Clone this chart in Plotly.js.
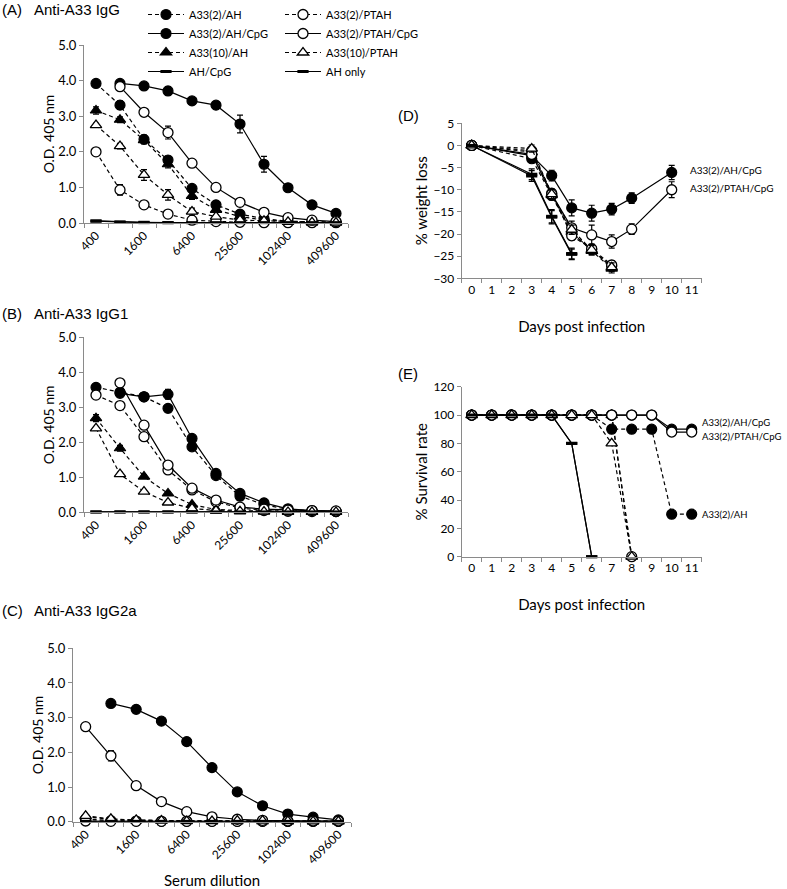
<!DOCTYPE html>
<html><head><meta charset="utf-8">
<script src="https://cdn.plot.ly/plotly-3.0.1.min.js"></script>
<style>html,body{margin:0;padding:0;background:#fff}</style>
</head><body><div id="chart" style="width:787px;height:889px"></div>
<script>
// ---------- DATA ----------
const dilutions = ["400","800","1600","3200","6400","12800","25600","51200","102400","204800","409600"];
const dilutionTickText = ["400","","1600","","6400","","25600","","102400","","409600"];
const seriesNames = ["A33(2)/AH","A33(2)/AH/CpG","A33(10)/AH","AH/CpG","A33(2)/PTAH","A33(2)/PTAH/CpG","A33(10)/PTAH","AH only"];

// (A) Anti-A33 IgG
const igg_AH       = [3.92, 3.31, 2.35, 1.77, 0.97, 0.51, 0.25, 0.12, 0.05, 0.03, 0.02];
const igg_AH_err   = [0.05, 0.12, 0.12, 0.10, 0.08, 0.04, 0.03, 0.02, 0, 0, 0];
const igg_AHCpG    = [null, 3.92, 3.85, 3.71, 3.43, 3.31, 2.78, 1.65, 0.99, 0.51, 0.27];
const igg_AHCpG_err= [0, 0.05, 0.05, 0.12, 0.06, 0.10, 0.25, 0.22, 0.06, 0.04, 0.03];
const igg_10AH     = [3.16, 2.90, 2.33, 1.65, 0.76, 0.37, 0.18, 0.08, 0.04, 0.02, 0.02];
const igg_10AH_err = [0.10, 0.08, 0.10, 0.10, 0.10, 0.05, 0.03, 0.02, 0, 0, 0];
const igg_mockCpG  = [0.06, 0.03, 0.02, 0.01, 0.01, 0.01, 0.01, 0.01, 0.01, 0.01, 0.01];
const igg_PTAH     = [2.00, 0.93, 0.51, 0.25, 0.08, 0.04, 0.02, 0.01, 0.01, 0.01, 0.01];
const igg_PTAH_err = [0.05, 0.15, 0.05, 0.05, 0.03, 0.02, 0, 0, 0, 0, 0];
const igg_PTAHCpG  = [null, 3.83, 3.11, 2.54, 1.68, 1.00, 0.58, 0.30, 0.15, 0.08, 0.04];
const igg_PTAHCpG_err = [0, 0.05, 0.05, 0.18, 0.05, 0.05, 0.05, 0.03, 0.02, 0.01, 0.01];
const igg_10PTAH   = [2.75, 2.16, 1.35, 0.79, 0.32, 0.18, 0.08, 0.06, 0.03, 0.02, 0.01];
const igg_10PTAH_err = [0.05, 0.08, 0.15, 0.15, 0.10, 0.05, 0.03, 0.02, 0, 0, 0];
const igg_mock     = [0.05, 0.02, 0.01, 0.01, 0.01, 0.01, 0.01, 0.01, 0.01, 0.01, 0.01];

// (B) Anti-A33 IgG1
const igg1_AH       = [3.57, 3.43, 3.30, 2.97, 1.87, 1.05, 0.46, 0.22, 0.08, 0.04, 0.02];
const igg1_AH_err   = [0.05, 0.05, 0.05, 0.06, 0.06, 0.05, 0.04, 0.02, 0, 0, 0];
const igg1_AHCpG    = [null, 3.40, 3.30, 3.37, 2.11, 1.11, 0.54, 0.27, 0.10, 0.05, 0.03];
const igg1_AHCpG_err= [0, 0.05, 0.05, 0.14, 0.06, 0.05, 0.04, 0.03, 0.02, 0.01, 0.01];
const igg1_10AH     = [2.69, 1.83, 1.02, 0.54, 0.22, 0.08, 0.05, 0.03, 0.02, 0.01, 0.01];
const igg1_10AH_err = [0.10, 0.08, 0.05, 0.05, 0.03, 0.02, 0, 0, 0, 0, 0];
const igg1_mockCpG  = [0.01, 0.01, 0.01, 0.01, 0.01, 0.01, 0.01, 0.01, 0.01, 0.01, 0.01];
const igg1_PTAH     = [3.35, 3.05, 2.16, 1.21, 0.64, 0.30, 0.12, 0.05, 0.03, 0.02, 0.02];
const igg1_PTAH_err = [0.05, 0.05, 0.05, 0.05, 0.04, 0.03, 0.02, 0, 0, 0, 0];
const igg1_PTAHCpG  = [null, 3.70, 2.49, 1.35, 0.69, 0.35, 0.15, 0.09, 0.06, 0.05, 0.04];
const igg1_PTAHCpG_err = [0, 0.05, 0.05, 0.05, 0.04, 0.03, 0.02, 0.02, 0.01, 0.01, 0.01];
const igg1_10PTAH   = [2.40, 1.09, 0.59, 0.28, 0.11, 0.05, 0.03, 0.02, 0.01, 0.01, 0.01];
const igg1_10PTAH_err = [0.05, 0.05, 0.04, 0.03, 0.02, 0, 0, 0, 0, 0, 0];
const igg1_mock     = [0.01, 0.01, 0.01, 0.01, 0.01, 0.01, 0.01, 0.01, 0.01, 0.01, 0.01];

// (C) Anti-A33 IgG2a
const igg2a_AH       = [0.08, 0.03, 0.02, 0.01, 0.01, 0.01, 0.01, 0.01, 0.01, 0.01, 0.01];
const igg2a_AHCpG    = [null, 3.41, 3.24, 2.90, 2.31, 1.56, 0.86, 0.46, 0.22, 0.13, 0.05];
const igg2a_AHCpG_err= [0, 0.04, 0.08, 0.06, 0.05, 0.04, 0.03, 0.03, 0.02, 0.01, 0.01];
const igg2a_10AH     = [0.15, 0.06, 0.04, 0.03, 0.02, 0.01, 0.01, 0.01, 0.01, 0.01, 0.01];
const igg2a_mockCpG  = [0.01, 0.01, 0.01, 0.01, 0.01, 0.01, 0.01, 0.01, 0.01, 0.01, 0.01];
const igg2a_PTAH     = [0.02, 0.01, 0.01, 0.01, 0.01, 0.01, 0.01, 0.01, 0.01, 0.01, 0.01];
const igg2a_PTAHCpG  = [2.74, 1.90, 1.04, 0.58, 0.29, 0.14, 0.07, 0.04, 0.02, 0.02, 0.02];
const igg2a_PTAHCpG_err = [0.10, 0.15, 0.04, 0.03, 0.02, 0.02, 0.01, 0.01, 0.01, 0.01, 0.01];
const igg2a_10PTAH   = [0.17, 0.08, 0.05, 0.03, 0.02, 0.02, 0.03, 0.03, 0.02, 0.01, 0.01];
const igg2a_mock     = [0.01, 0.01, 0.01, 0.01, 0.01, 0.01, 0.01, 0.01, 0.01, 0.01, 0.01];

// (D) % weight loss
const daysD = [0, 3, 4, 5, 6, 7, 8, 10];
const wl_AH        = [0, -3.0, -11.3, -19.8, -23.5, -27.3, null, null];
const wl_AH_err    = [0.2, 0.8, 1.0, 1.0, 1.0, 1.0, 0, 0];
const wl_AHCpG     = [0, -2.3, -6.8, -14.1, -15.3, -14.4, -11.9, -6.1];
const wl_AHCpG_err = [0.3, 0.8, 1.2, 1.8, 1.8, 1.3, 1.2, 1.6];
const wl_10AH      = [0, -1.5, -11.2, -19.5, -23.8, -27.8, null, null];
const wl_10AH_err  = [0.2, 0.8, 1.0, 1.0, 1.0, 1.0, 0, 0];
const wl_mockCpG   = [0, -6.9, -16.2, -24.6, null, null, null, null];
const wl_mockCpG_err = [0.2, 1.2, 1.5, 1.2, 0, 0, 0, 0];
const wl_PTAH      = [0, -1.2, -10.8, -20.4, -23.3, -27.0, null, null];
const wl_PTAH_err  = [0.2, 0.8, 1.0, 1.0, 1.0, 1.0, 0, 0];
const wl_PTAHCpG   = [0, -2.0, -11.0, -18.6, -20.2, -21.7, -18.9, -10.0];
const wl_PTAHCpG_err = [0.3, 0.8, 1.0, 1.5, 2.2, 1.5, 1.2, 1.8];
const wl_10PTAH    = [0, -0.7, -11.0, -19.0, -23.6, -27.5, null, null];
const wl_10PTAH_err= [0.2, 0.8, 1.0, 1.0, 1.0, 1.0, 0, 0];
const wl_mock      = [0, -6.5, -16.0, -24.4, null, null, null, null];
const wl_mock_err  = [0.2, 1.2, 1.5, 1.2, 0, 0, 0, 0];

// (E) % survival
const daysE = [0, 1, 2, 3, 4, 5, 6, 7, 8, 9, 10, 11];
const sv_AH       = [100, 100, 100, 100, 100, 100, 100, 90, 90, 90, 30, 30];
const sv_AHCpG    = [100, 100, 100, 100, 100, 100, 100, 100, 100, 100, 90, 90];
const sv_10AH     = [100, 100, 100, 100, 100, 100, 100, 100, 0, null, null, null];
const sv_mockCpG  = [100, 100, 100, 100, 100, 80, 0, null, null, null, null, null];
const sv_PTAH     = [100, 100, 100, 100, 100, 100, 100, 100, 0, null, null, null];
const sv_PTAHCpG  = [100, 100, 100, 100, 100, 100, 100, 100, 100, 100, 88, 88];
const sv_10PTAH   = [100, 100, 100, 100, 100, 100, 100, 80, 0, null, null, null];
const sv_mock     = [100, 100, 100, 100, 100, 80, 0, null, null, null, null, null];

// ---------- STYLE ----------
const W = 787, H = 889;
const FONT = "Lato, 'Open Sans', sans-serif";
const AX = '#8a8a8a';
const TXT = '#000000';
const DASH = '4px,3px';
const styles = {
  "A33(2)/AH":       {symbol:'circle', fill:'black', dash:DASH, size:10, mlw:1.2, legend:'legend'},
  "A33(2)/AH/CpG":   {symbol:'circle', fill:'black', dash:'solid', size:10, mlw:1.2, legend:'legend'},
  "A33(10)/AH":      {symbol:'triangle-up', fill:'black', dash:DASH, size:10, mlw:1.2, legend:'legend'},
  "AH/CpG":          {symbol:'line-ew', fill:'black', dash:'solid', size:8, mlw:3, legend:'legend'},
  "A33(2)/PTAH":     {symbol:'circle', fill:'white', dash:DASH, size:10, mlw:1.3, legend:'legend2'},
  "A33(2)/PTAH/CpG": {symbol:'circle', fill:'white', dash:'solid', size:10, mlw:1.3, legend:'legend2'},
  "A33(10)/PTAH":    {symbol:'triangle-up', fill:'white', dash:DASH, size:10, mlw:1.3, legend:'legend2'},
  "AH only":         {symbol:'line-ew', fill:'black', dash:'solid', size:8, mlw:3, legend:'legend2'}
};
function mk(name, x, y, err, xa, ya, showlegend) {
  const s = styles[name];
  const t = {type:'scatter', mode:'lines+markers', name:name, x:x, y:y, xaxis:xa, yaxis:ya,
    legend:s.legend, showlegend:showlegend, cliponaxis:false, connectgaps:false, hoverinfo:'skip',
    line:{color:'black', width:1.2, dash:s.dash},
    marker:{symbol:s.symbol, size:s.size, color:s.fill, line:{color:'black', width:s.mlw}}};
  if (err) t.error_y = {type:'data', array:err, visible:true, color:'black', thickness:1.2, width:3};
  return t;
}
const traces = [];
function panel(xs, vals, errs, xa, ya, legendOn) {
  seriesNames.forEach((n, i) => traces.push(mk(n, xs, vals[i], errs[i], xa, ya, legendOn)));
}
panel(dilutions, [igg_AH, igg_AHCpG, igg_10AH, igg_mockCpG, igg_PTAH, igg_PTAHCpG, igg_10PTAH, igg_mock],
  [igg_AH_err, igg_AHCpG_err, igg_10AH_err, null, igg_PTAH_err, igg_PTAHCpG_err, igg_10PTAH_err, null], 'x', 'y', true);
panel(dilutions, [igg1_AH, igg1_AHCpG, igg1_10AH, igg1_mockCpG, igg1_PTAH, igg1_PTAHCpG, igg1_10PTAH, igg1_mock],
  [igg1_AH_err, igg1_AHCpG_err, igg1_10AH_err, null, igg1_PTAH_err, igg1_PTAHCpG_err, igg1_10PTAH_err, null], 'x2', 'y2', false);
panel(dilutions, [igg2a_AH, igg2a_AHCpG, igg2a_10AH, igg2a_mockCpG, igg2a_PTAH, igg2a_PTAHCpG, igg2a_10PTAH, igg2a_mock],
  [null, igg2a_AHCpG_err, null, null, null, igg2a_PTAHCpG_err, null, null], 'x3', 'y3', false);
panel(daysD, [wl_AH, wl_AHCpG, wl_10AH, wl_mockCpG, wl_PTAH, wl_PTAHCpG, wl_10PTAH, wl_mock],
  [wl_AH_err, wl_AHCpG_err, wl_10AH_err, wl_mockCpG_err, wl_PTAH_err, wl_PTAHCpG_err, wl_10PTAH_err, wl_mock_err], 'x4', 'y4', false);
panel(daysE, [sv_AH, sv_AHCpG, sv_10AH, sv_mockCpG, sv_PTAH, sv_PTAHCpG, sv_10PTAH, sv_mock],
  [null, null, null, null, null, null, null, null], 'x5', 'y5', false);

// ---------- LAYOUT ----------
const fx = p => p / W;
const fy = p => 1 - p / H;
function catAxis(x0, x1, anchor, title) {
  const a = {domain:[fx(x0), fx(x1)], anchor:anchor, type:'category', range:[-0.5, 10.5],
    tickmode:'array', tickvals:dilutions, ticktext:dilutionTickText, tickson:'boundaries',
    ticks:'outside', ticklen:4, tickcolor:AX, showline:true, linecolor:AX, linewidth:1,
    tickangle:-45, tickfont:{size:12, family:FONT, color:TXT}, showgrid:false, zeroline:false, fixedrange:true};
  if (title) a.title = {text:title, font:{size:15, family:FONT, color:TXT}, standoff:10};
  return a;
}
function odAxis(y0, y1, anchor) {
  return {domain:[fy(y1), fy(y0)], anchor:anchor, range:[0, 5], tickmode:'linear', tick0:0, dtick:1, tickformat:'.1f',
    ticks:'outside', ticklen:4, tickcolor:AX, showline:true, linecolor:AX, linewidth:1, showgrid:false, zeroline:false,
    tickfont:{size:13, family:FONT, color:TXT},
    title:{text:'O.D. 405 nm', font:{size:14, family:FONT, color:TXT}, standoff:0}, fixedrange:true};
}
function dayAxis(anchor) {
  return {domain:[fx(461.7), fx(701.7)], anchor:anchor, range:[-0.5, 11.5], tickmode:'linear', tick0:0, dtick:1,
    ticks:'', showline:true, linecolor:AX, linewidth:1, showgrid:false, zeroline:false,
    minor:{tick0:-0.5, dtick:1, ticks:'outside', ticklen:4, tickcolor:AX, showgrid:false},
    tickfont:{size:12, family:FONT, color:TXT},
    title:{text:'Days post infection', font:{size:15, family:FONT, color:TXT}, standoff:25}, fixedrange:true};
}
function ann(text, x, y, size, fam, anchor) {
  return {text:text, xref:'paper', yref:'paper', x:fx(x), y:fy(y), xanchor:anchor || 'left', yanchor:'middle',
    showarrow:false, font:{size:size, family:fam || FONT, color:TXT}};
}
const ARIAL = "'Liberation Sans', Arial, sans-serif";
const layout = {
  width:W, height:H, margin:{l:0, r:0, t:0, b:0}, paper_bgcolor:'white', plot_bgcolor:'rgba(0,0,0,0)',
  font:{family:FONT, color:TXT},
  xaxis: catAxis(84, 348, 'y'),
  yaxis: odAxis(45, 223, 'x'),
  xaxis2: catAxis(84, 348, 'y2'),
  yaxis2: odAxis(337.3, 512.3, 'x2'),
  xaxis3: catAxis(73, 351, 'y3', 'Serum dilution'),
  yaxis3: odAxis(648.3, 821.7, 'x3'),
  xaxis4: dayAxis('y4'),
  yaxis4: {domain:[fy(278.3), fy(123.3)], anchor:'x4', range:[-30, 5], tickmode:'linear', tick0:0, dtick:5,
    ticks:'outside', ticklen:4, tickcolor:AX, showline:true, linecolor:AX, showgrid:false, zeroline:false,
    tickfont:{size:12, family:FONT, color:TXT},
    title:{text:'% weight loss', font:{size:15, family:FONT, color:TXT}, standoff:2}, fixedrange:true},
  xaxis5: dayAxis('y5'),
  yaxis5: {domain:[fy(556.7), fy(386.7)], anchor:'x5', range:[0, 120], tickmode:'linear', tick0:0, dtick:20,
    ticks:'outside', ticklen:4, tickcolor:AX, showline:true, linecolor:AX, showgrid:false, zeroline:false,
    tickfont:{size:12, family:FONT, color:TXT},
    title:{text:'% Survival rate', font:{size:15, family:FONT, color:TXT}, standoff:2}, fixedrange:true},
  legend: {x:fx(143), y:1, xanchor:'left', yanchor:'top', font:{size:11, family:FONT, color:TXT},
    bgcolor:'rgba(0,0,0,0)', tracegroupgap:0, itemwidth:36, traceorder:'normal'},
  legend2: {x:fx(280), y:1, xanchor:'left', yanchor:'top', font:{size:11, family:FONT, color:TXT},
    bgcolor:'rgba(0,0,0,0)', tracegroupgap:0, itemwidth:36, traceorder:'normal'},
  annotations: [
    ann('(A)', 0, 9, 15, ARIAL), ann('Anti-A33 IgG', 32, 9, 15, ARIAL),
    ann('(B)', 0, 313, 15, ARIAL), ann('Anti-A33 IgG1', 32, 313, 15, ARIAL),
    ann('(C)', 0, 610, 15, ARIAL), ann('Anti-A33 IgG2a', 32, 610, 15, ARIAL),
    ann('(D)', 396, 115, 15, ARIAL), ann('(E)', 396, 373, 15, ARIAL),
    ann('A33(2)/AH/CpG', 688, 170, 10), ann('A33(2)/PTAH/CpG', 688, 188, 10),
    ann('A33(2)/AH/CpG', 700, 422, 9.5), ann('A33(2)/PTAH/CpG', 700, 437, 9.5),
    ann('A33(2)/AH', 700, 514, 9.5)
  ]
};
Plotly.newPlot('chart', traces, layout, {staticPlot:true, displayModeBar:false});
</script>
</body></html>
